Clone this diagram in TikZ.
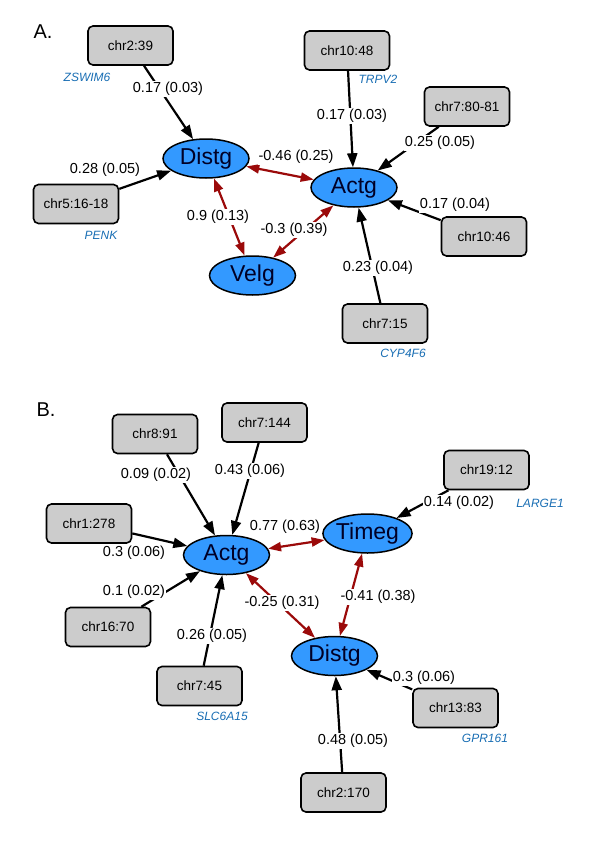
\documentclass[tikz,border=0pt]{standalone}
\usepackage{fontspec}
\setmainfont{Liberation Sans}
\usetikzlibrary{arrows.meta,shapes.geometric}
\definecolor{boxgray}{RGB}{204,204,204}
\definecolor{latblue}{RGB}{51,153,255}
\definecolor{genblue}{RGB}{25,110,180}
\definecolor{corred}{RGB}{155,10,10}
\tikzset{
  obs/.style={draw=black, line width=1.6pt, rounded corners=5pt, fill=boxgray,
    minimum width=85pt, minimum height=39pt, inner sep=0pt, font=\fontsize{13.5}{14}\selectfont},
  lat/.style={ellipse, draw=black, line width=1.5pt, fill=latblue, minimum width=86pt,
    minimum height=39pt, inner sep=0pt, font=\fontsize{23}{24}\selectfont, text=black!85!blue},
  gene/.style={text=genblue, font=\fontsize{12}{13}\selectfont\itshape, inner sep=0pt},
  elab/.style={fill=white, inner sep=1pt, font=\fontsize{14.5}{15}\selectfont},
  panel/.style={font=\fontsize{20}{21}\selectfont, inner sep=0pt},
  path/.style={draw=black, line width=2.2pt, -{Triangle[length=14pt,width=10pt]}},
  cov/.style={draw=corred, line width=2.2pt, {Triangle[length=13pt,width=9pt]}-{Triangle[length=13pt,width=9pt]}}
}
\begin{document}
\begin{tikzpicture}[x=1pt,y=-1pt]
\useasboundingbox[fill=white] (0,0) rectangle (593,841);
% ---------------- Panel A ----------------
\node[panel] (pA) at (43,32) {A.};
\node[obs] (a1) at (130.5,45.5) {chr2:39};
\node[obs] (a2) at (76,204) {chr5:16-18};
\node[obs] (a3) at (347,50.5) {chr10:48};
\node[obs] (a4) at (467,106.5) {chr7:80-81};
\node[obs] (a5) at (484,236.5) {chr10:46};
\node[obs] (a6) at (385,323.5) {chr7:15};
\node[lat] (aD) at (206,158.5) {Distg};
\node[lat] (aA) at (354,187.5) {Actg};
\node[lat] (aV) at (252.5,275.5) {Velg};
\node[gene] (g1) at (87,77) {ZSWIM6};
\node[gene] (g2) at (101,235) {PENK};
\node[gene] (g3) at (378,79) {TRPV2};
\node[gene] (g4) at (403,353) {CYP4F6};
\draw[path] (a1) -- (aD);
\draw[path] (a2) -- (aD);
\draw[path] (a3) -- (aA);
\draw[path] (a4) -- (aA);
\draw[path] (a5) -- (aA);
\draw[path] (a6) -- (aA);
\draw[cov] (aD) -- (aA);
\draw[cov] (aD) -- (aV);
\draw[cov] (aV) -- (aA);
\node[elab] (l1) at (168,89) {0.17 (0.03)};
\node[elab] (l2) at (105,170) {0.28 (0.05)};
\node[elab] (l3) at (218,217) {0.9 (0.13)};
\node[elab] (l4) at (296,157) {-0.46 (0.25)};
\node[elab] (l5) at (294,230) {-0.3 (0.39)};
\node[elab] (l6) at (352,116) {0.17 (0.03)};
\node[elab] (l7) at (440,143) {0.25 (0.05)};
\node[elab] (l8) at (455,205) {0.17 (0.04)};
\node[elab] (l9) at (378,268) {0.23 (0.04)};
% ---------------- Panel B ----------------
\node[panel] (pB) at (46,410) {B.};
\node[obs] (b1) at (155,434) {chr8:91};
\node[obs] (b2) at (264.5,422.5) {chr7:144};
\node[obs] (b3) at (89,523.5) {chr1:278};
\node[obs] (b4) at (108,627) {chr16:70};
\node[obs] (b5) at (199.5,686) {chr7:45};
\node[obs] (b6) at (486.5,470) {chr19:12};
\node[obs] (b7) at (455.5,708) {chr13:83};
\node[obs] (b8) at (343.5,792.5) {chr2:170};
\node[lat] (bA) at (226.5,555) {Actg};
\node[lat] (bT) at (367.5,533.5) {Timeg};
\node[lat] (bD) at (334.5,656) {Distg};
\node[gene] (h1) at (222,716) {SLC6A15};
\node[gene] (h2) at (540,503) {LARGE1};
\node[gene] (h3) at (485,738) {GPR161};
\draw[path] (b1) -- (bA);
\draw[path] (b2) -- (bA);
\draw[path] (b3) -- (bA);
\draw[path] (b4) -- (bA);
\draw[path] (b5) -- (bA);
\draw[path] (b6) -- (bT);
\draw[path] (b7) -- (bD);
\draw[path] (b8) -- (bD);
\draw[cov] (bA) -- (bT);
\draw[cov] (bA) -- (bD);
\draw[cov] (bT) -- (bD);
\node[elab] (m1) at (156,475) {0.09 (0.02)};
\node[elab] (m2) at (250,471) {0.43 (0.06)};
\node[elab] (m3) at (134,553) {0.3 (0.06)};
\node[elab] (m4) at (285,527) {0.77 (0.63)};
\node[elab] (m5) at (134,592) {0.1 (0.02)};
\node[elab] (m6) at (212,636) {0.26 (0.05)};
\node[elab] (m7) at (282,603) {-0.25 (0.31)};
\node[elab] (m8) at (459,503) {0.14 (0.02)};
\node[elab] (m9) at (378,597) {-0.41 (0.38)};
\node[elab] (m10) at (424,678) {0.3 (0.06)};
\node[elab] (m11) at (353,741) {0.48 (0.05)};
\end{tikzpicture}
\end{document}
